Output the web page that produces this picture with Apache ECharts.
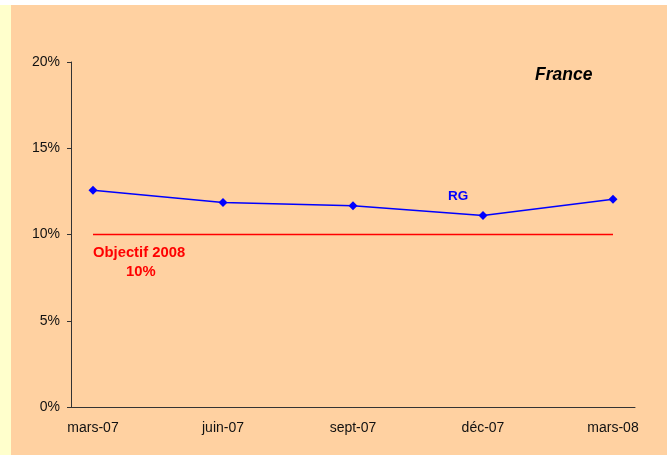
<!DOCTYPE html>
<html>
<head>
<meta charset="utf-8">
<script src="https://cdn.jsdelivr.net/npm/echarts@6/dist/echarts.min.js"></script>
<style>
html,body{margin:0;padding:0;background:#fff;}
#c{width:667px;height:455px;}
</style>
</head>
<body>
<div id="c"></div>
<script>
const categories = ['mars-07', 'juin-07', 'sept-07', 'déc-07', 'mars-08'];
const rgValues = [12.57, 11.86, 11.66, 11.1, 12.05];
const objectifValues = [10, 10, 10, 10, 10];
const yTicks = [0, 5, 10, 15, 20];

const chart = echarts.init(document.getElementById('c'), null, {renderer: 'canvas'});
const font = 'Liberation Sans, Arial, sans-serif';
const gTop = 62, gBottom = 455 - 407;

chart.setOption({
  animation: false,
  backgroundColor: '#ffffff',
  graphic: [
    {type: 'rect', z: -10, shape: {x: 0, y: 5, width: 11, height: 450}, style: {fill: '#FFFFCC'}},
    {type: 'rect', z: -10, shape: {x: 11, y: 5, width: 656, height: 450}, style: {fill: '#FFD1A1'}},
    {type: 'text', left: 535, top: 66, style: {text: 'France', font: 'italic bold 17.5px ' + font, fill: '#000'}},
    {type: 'text', left: 448, top: 189, style: {text: 'RG', font: 'bold 13.5px ' + font, fill: '#0000FF'}},
    {type: 'text', left: 93, top: 245, style: {text: 'Objectif 2008', font: 'bold 14.8px ' + font, fill: '#FF0000'}},
    {type: 'text', left: 126, top: 264, style: {text: '10%', font: 'bold 14.8px ' + font, fill: '#FF0000'}}
  ],
  grid: [
    {left: 71, right: 667 - 635, top: gTop, bottom: gBottom, containLabel: false},
    {left: 93, right: 667 - 613, top: gTop, bottom: gBottom, containLabel: false}
  ],
  xAxis: [
    {gridIndex: 0, type: 'value', min: 0, max: 1, axisLine: {show: true, lineStyle: {color: '#333', width: 1}},
     axisTick: {show: false}, axisLabel: {show: false}, splitLine: {show: false}},
    {gridIndex: 1, type: 'category', data: categories, boundaryGap: false,
     axisLine: {show: false}, axisTick: {show: false}, splitLine: {show: false},
     axisLabel: {color: '#111', fontFamily: font, fontSize: 14, margin: 14}}
  ],
  yAxis: [
    {gridIndex: 0, type: 'value', min: 0, max: 20, interval: 5,
     axisLine: {show: true, lineStyle: {color: '#333', width: 1}},
     axisTick: {show: true, length: 4, lineStyle: {color: '#333'}},
     splitLine: {show: false},
     axisLabel: {color: '#111', fontFamily: font, fontSize: 14, margin: 11,
       formatter: v => yTicks.includes(v) ? v + '%' : ''}},
    {gridIndex: 1, type: 'value', min: 0, max: 20, show: false}
  ],
  series: [
    {name: 'Objectif 2008', type: 'line', xAxisIndex: 1, yAxisIndex: 1, data: objectifValues,
     showSymbol: false, symbol: 'none', lineStyle: {color: '#FF0000', width: 1.5}},
    {name: 'RG', type: 'line', xAxisIndex: 1, yAxisIndex: 1, data: rgValues,
     symbol: 'diamond', symbolSize: 9, itemStyle: {color: '#0000FF'},
     lineStyle: {color: '#0000FF', width: 1.5}}
  ]
});
</script>
</body>
</html>
